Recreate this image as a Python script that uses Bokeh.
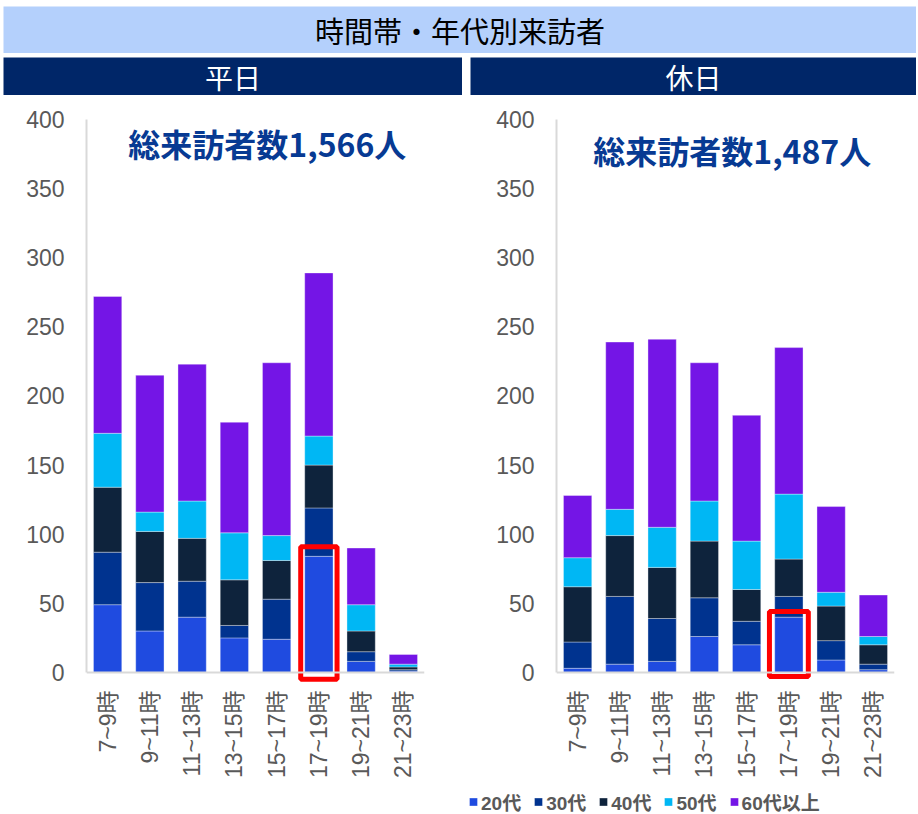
import math
from bokeh.plotting import figure
from bokeh.layouts import column, row
from bokeh.models import (ColumnDataSource, Range1d, FixedTicker, Legend,
                          LegendItem, Spacer, Span)
from bokeh.core.properties import value
from bokeh.embed import file_html
from bokeh.resources import INLINE

# ---------------- data ----------------
chart_title = "時間帯・年代別来訪者"
panel_titles = ["平日", "休日"]
time_slots = ["7~9時", "9~11時", "11~13時", "13~15時",
              "15~17時", "17~19時", "19~21時", "21~23時"]
age_groups = ["20代", "30代", "40代", "50代", "60代以上"]

weekday_20s = [49, 30, 40, 25, 24, 84, 8, 1]
weekday_30s = [38, 35, 26, 9, 29, 35, 7, 1]
weekday_40s = [47, 37, 31, 33, 28, 31, 15, 2]
weekday_50s = [39, 14, 27, 34, 18, 21, 19, 2]
weekday_60s = [99, 99, 99, 80, 125, 118, 41, 7]
weekday_total_label = "総来訪者数1,566人"

holiday_20s = [3, 6, 8, 26, 20, 40, 9, 2]
holiday_30s = [19, 49, 31, 28, 17, 15, 14, 4]
holiday_40s = [40, 44, 37, 41, 23, 27, 25, 14]
holiday_50s = [21, 19, 29, 29, 35, 47, 10, 6]
holiday_60s = [45, 121, 136, 100, 91, 106, 62, 30]
holiday_total_label = "総来訪者数1,487人"

highlight_index = 5  # 17~19時

y_ticks = [0, 50, 100, 150, 200, 250, 300, 350, 400]

colors = ["#1f4be0", "#00338f", "#0e233c", "#00b7f4", "#7415e6"]
TICK_FONT = "'Liberation Sans', 'Noto Sans CJK JP', sans-serif"
CJK_FONT = "'Noto Sans CJK JP', sans-serif"
GRAY = "#595959"


def make_source(series):
    data = dict(x=list(range(len(time_slots))))
    keys = []
    for i, s in enumerate(series):
        k = "s%d" % i
        data[k] = s
        keys.append(k)
    return ColumnDataSource(data), keys


def blank_fig(width, height, bg="white"):
    f = figure(width=width, height=height, x_range=Range1d(0, 1),
               y_range=Range1d(0, 1), toolbar_location=None,
               output_backend="svg", x_axis_type=None, y_axis_type=None,
               min_border=0)
    f.background_fill_color = bg
    f.border_fill_color = bg
    f.outline_line_color = None
    return f


def banner(text, width, height, bg, color, size):
    f = blank_fig(width, height, bg)
    f.text(x=[0.5], y=[0.5], text=[text], text_align="center",
           text_baseline="middle", text_color=color,
           text_font=value(CJK_FONT), text_font_size=value(size))
    return f


def bar_panel(series, total_label, label_pos, box_width, box_pad, box_bottom,
              width, border_left, border_right):
    src, keys = make_source(series)
    xs = src.data["x"]

    p = figure(width=width, height=695, x_range=Range1d(-0.5, 7.5),
               y_range=Range1d(-8, 400), toolbar_location=None,
               output_backend="svg", min_border_left=border_left,
               min_border_right=border_right, min_border_top=24,
               min_border_bottom=107)
    p.outline_line_color = None
    p.background_fill_color = "white"
    p.border_fill_color = "white"
    p.xgrid.visible = False
    p.ygrid.visible = False

    p.vbar_stack(keys, x="x", width=0.67, source=src, color=colors,
                 line_color="white", line_alpha=0.35, line_width=1)

    # x axis baseline at zero
    p.add_layout(Span(location=0, dimension="width", line_color="#d9d9d9",
                      line_width=2))

    # highlight box
    hx = xs[highlight_index]
    p.quad(left=[hx - box_width / 2], right=[hx + box_width / 2],
           bottom=[box_bottom],
           top=[series[0][highlight_index] + box_pad],
           fill_color=None, line_color="#ff0000", line_width=5)

    # total label
    p.text(x=[label_pos[0]], y=[label_pos[1]], text=[total_label],
           text_align="center", text_baseline="middle", text_color="#073a93",
           text_font=value(CJK_FONT), text_font_size=value("32px"),
           text_font_style="bold")

    xa = p.xaxis[0]
    xa.ticker = FixedTicker(ticks=xs)
    xa.major_label_overrides = {i: t for i, t in enumerate(time_slots)}
    xa.major_label_orientation = math.pi / 2
    xa.axis_line_color = None
    xa.major_tick_line_color = None
    xa.minor_tick_line_color = None
    xa.major_tick_out = 0
    xa.major_tick_in = 0
    xa.major_label_standoff = 7
    xa.major_label_text_font = TICK_FONT
    xa.major_label_text_font_size = "23px"
    xa.major_label_text_color = GRAY

    ya = p.yaxis[0]
    ya.ticker = FixedTicker(ticks=y_ticks)
    ya.bounds = (0, 400)
    ya.axis_line_color = "#d9d9d9"
    ya.axis_line_width = 2
    ya.major_tick_line_color = None
    ya.minor_tick_line_color = None
    ya.major_tick_out = 0
    ya.major_tick_in = 0
    ya.major_label_standoff = 22
    ya.major_label_text_font = TICK_FONT
    ya.major_label_text_font_size = "23px"
    ya.major_label_text_color = GRAY
    return p


def legend_fig(series, width, height):
    f = blank_fig(width, height)
    src, keys = make_source(series)
    rs = f.vbar_stack(keys, x="x", width=0.67, source=src, color=colors,
                      line_color="white", line_alpha=0.35, line_width=1)
    for r in rs:
        r.visible = False
    items = [LegendItem(label=a, renderers=[r], index=0)
             for a, r in zip(age_groups, rs)]
    lg = Legend(items=items, orientation="horizontal", location="left",
                glyph_width=10, glyph_height=10, label_standoff=3,
                spacing=12, padding=0, margin=0,
                label_text_font=TICK_FONT, label_text_font_size="19px",
                label_text_font_style="bold", label_text_color=GRAY,
                border_line_color=None, background_fill_alpha=0,
                label_height=20, click_policy="none")
    f.add_layout(lg, "center")
    return f


title_fig = banner(chart_title, 913, 47, "#b4d0fc", "black", "29px")
head_left = banner(panel_titles[0], 459, 38, "#002668", "white", "28px")
head_right = banner(panel_titles[1], 446, 38, "#002668", "white", "28px")

weekday = [weekday_20s, weekday_30s, weekday_40s, weekday_50s, weekday_60s]
holiday = [holiday_20s, holiday_30s, holiday_40s, holiday_50s, holiday_60s]

left = bar_panel(weekday, weekday_total_label, (4.28 - 0.5, 383), 0.86, 7, -5,
                 470, 86, 46)
right = bar_panel(holiday, holiday_total_label, (4.16 - 0.5, 378), 0.92, 4, -3,
                  446, 86, 22)

legend_panel = legend_fig(holiday, 448, 22)

layout = column(
    Spacer(width=916, height=6),
    row(Spacer(width=3, height=47), title_fig),
    Spacer(width=916, height=4),
    row(Spacer(width=3, height=38), head_left, Spacer(width=8, height=38), head_right),
    row(left, right),
    row(Spacer(width=468, height=22), legend_panel),
)

open("out.html", "w").write(file_html(layout, INLINE))
